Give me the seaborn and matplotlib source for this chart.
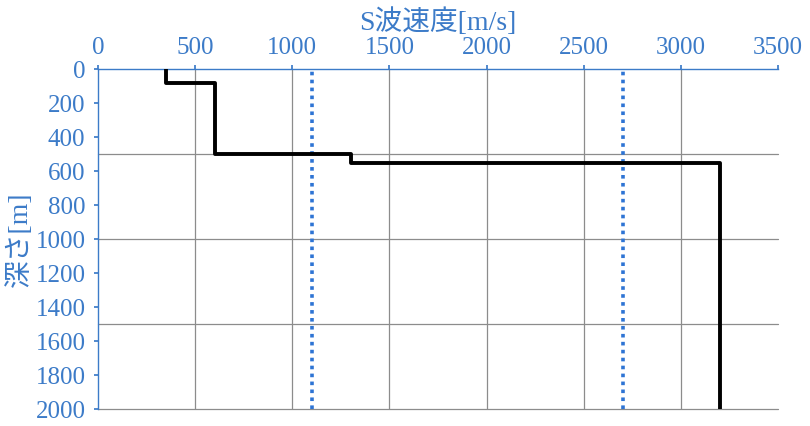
import numpy as np
import pandas as pd
import matplotlib
matplotlib.use('Agg')
import matplotlib.pyplot as plt
import seaborn as sns

# layer model: S-wave velocity per layer, layer boundaries in depth
layer_vs = [350, 600, 1300, 3200]
layer_top = [0, 80, 500, 550]
layer_bottom = [80, 500, 550, 2000]
ref_vs = [1100, 2700]  # dotted reference lines

x_ticks = [0, 500, 1000, 1500, 2000, 2500, 3000, 3500]
y_ticks = [0, 200, 400, 600, 800, 1000, 1200, 1400, 1600, 1800, 2000]
y_grid = [500, 1000, 1500, 2000]

blue = '#3C7BC8'

sns.set_theme(style='white')
plt.rcParams['font.family'] = ['Liberation Serif', 'Noto Sans CJK JP', 'DejaVu Sans']

# build step path from the layers
xs, ys = [], []
for v, t, b in zip(layer_vs, layer_top, layer_bottom):
    xs += [v, v]
    ys += [t, b]
df = pd.DataFrame({'vs': xs, 'depth': ys})

fig = plt.figure(figsize=(8.1, 4.26), dpi=100)
ax = fig.add_axes([98/810, 1 - 409/426, 680/810, 340/426])

for v in ref_vs:
    ax.axvline(v, color='#2E74D4', lw=2.6, ls=(0, (1, 1.2)), zorder=2)

sns.lineplot(data=df, x='vs', y='depth', sort=False, estimator=None,
             color='black', lw=2.8, ax=ax, zorder=3)

ax.set_xlim(0, 3500)
ax.set_ylim(2000, 0)
ax.xaxis.tick_top()
ax.xaxis.set_label_position('top')
ax.set_xticks(x_ticks)
ax.set_yticks(y_ticks)
ax.set_xticklabels([str(t) for t in x_ticks])
ax.set_yticklabels([str(t) for t in y_ticks])

ax.grid(False)
for t in x_ticks[1:-1]:
    ax.axvline(t, color='#8C8C8C', lw=0.9, zorder=1)
for t in y_grid:
    ax.axhline(t, color='#8C8C8C', lw=0.9, zorder=1, clip_on=False)

ax.tick_params(axis='x', which='major', top=True, bottom=False, direction='out',
               length=3, color=blue, labelcolor=blue, labelsize=18, pad=4)
ax.tick_params(axis='y', which='major', left=True, direction='out',
               length=3, color=blue, labelcolor=blue, labelsize=18, pad=6)

for s in ['right', 'bottom']:
    ax.spines[s].set_visible(False)
for s in ['top', 'left']:
    ax.spines[s].set_color(blue)
    ax.spines[s].set_linewidth(1.0)

ax.set_xlabel('S波速度[m/s]', color=blue, fontsize=20, labelpad=5)
ax.set_ylabel('深さ[m]', color=blue, fontsize=20, labelpad=2)

fig.savefig('out.png', dpi=100)
